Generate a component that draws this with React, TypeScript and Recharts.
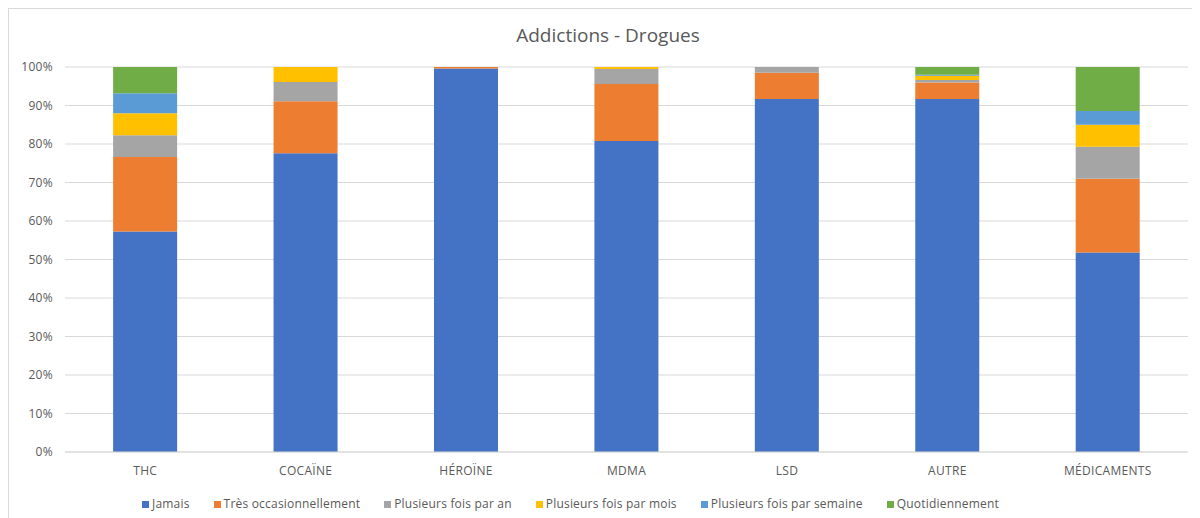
import React from "react";
import { BarChart, Bar, XAxis, YAxis, CartesianGrid, Legend } from "recharts";

const categories = ["THC", "COCAÏNE", "HÉROÏNE", "MDMA", "LSD", "AUTRE", "MÉDICAMENTS"];

const jamais = [57.3, 77.6, 99.6, 80.8, 91.7, 91.7, 51.8];
const tresOccasionnellement = [19.3, 13.5, 0.4, 14.8, 6.8, 4.3, 19.2];
const plusieursParAn = [5.7, 5.0, 0, 3.9, 1.5, 0.6, 8.3];
const plusieursParMois = [5.7, 3.9, 0, 0.5, 0, 1.1, 5.7];
const plusieursParSemaine = [5.2, 0, 0, 0, 0, 0.3, 3.6];
const quotidiennement = [6.8, 0, 0, 0, 0, 2.0, 11.4];

const yTicks = [0, 10, 20, 30, 40, 50, 60, 70, 80, 90, 100];

const series = [
  { key: "jamais", name: "Jamais", color: "#4472C4", values: jamais },
  { key: "tres", name: "Très occasionnellement", color: "#ED7D31", values: tresOccasionnellement },
  { key: "an", name: "Plusieurs fois par an", color: "#A5A5A5", values: plusieursParAn },
  { key: "mois", name: "Plusieurs fois par mois", color: "#FFC000", values: plusieursParMois },
  { key: "semaine", name: "Plusieurs fois par semaine", color: "#5B9BD5", values: plusieursParSemaine },
  { key: "quotidien", name: "Quotidiennement", color: "#70AD47", values: quotidiennement },
];

const data = categories.map((name, i) => {
  const row: Record<string, string | number> = { name };
  for (const s of series) {
    row[s.key] = s.values[i];
  }
  return row;
});

const FONT = "'Open Sans', sans-serif";
const TEXT = "#595959";

const LegendContent = () => (
  <div
    style={{
      display: "flex",
      justifyContent: "center",
      gap: 24,
      height: 20,
      boxSizing: "border-box",
      lineHeight: "18px",
      fontFamily: FONT,
      fontSize: 12,
      letterSpacing: 0.2,
      color: TEXT,
      paddingRight: 56,
      paddingTop: 2,
    }}
  >
    {series.map((s) => (
      <span key={s.key} style={{ display: "flex", alignItems: "center", whiteSpace: "nowrap" }}>
        <span style={{ width: 7, height: 7, background: s.color, marginRight: 3, display: "inline-block" }} />
        {s.name}
      </span>
    ))}
  </div>
);

export default function App() {
  return (
    <div
      style={{
        position: "relative",
        width: 1198,
        height: 520,
        border: "1px solid #d9d9d9",
        background: "#fff",
      }}
    >
      <div
        style={{
          position: "absolute",
          top: 13,
          left: 0,
          width: "100%",
          textAlign: "center",
          fontFamily: FONT,
          fontSize: 19,
          color: TEXT,
        }}
      >
        Addictions - Drogues
      </div>
      <BarChart
        width={1198}
        height={520}
        data={data}
        margin={{ top: 58, right: 19, left: 0, bottom: 16 }}
        barCategoryGap="30%"
      >
        <CartesianGrid vertical={false} stroke="#d9d9d9" />
        <XAxis
          dataKey="name"
          height={41}
          axisLine={{ stroke: "#d9d9d9" }}
          tickLine={false}
          tickSize={0}
          tickMargin={14}
          tick={{ fill: TEXT, fontSize: 12, fontFamily: FONT, letterSpacing: 0.3 }}
        />
        <YAxis
          width={56}
          domain={[0, 100]}
          ticks={yTicks}
          tickFormatter={(v: number) => `${v}%`}
          axisLine={false}
          tickLine={false}
          tickSize={0}
          tickMargin={12}
          tick={{ fill: TEXT, fontSize: 12, fontFamily: FONT, letterSpacing: 0.3 }}
        />
        <Legend verticalAlign="bottom" content={<LegendContent />} />
        {series.map((s) => (
          <Bar
            key={s.key}
            dataKey={s.key}
            name={s.name}
            stackId="a"
            fill={s.color}
            isAnimationActive={false}
          />
        ))}
      </BarChart>
    </div>
  );
}
